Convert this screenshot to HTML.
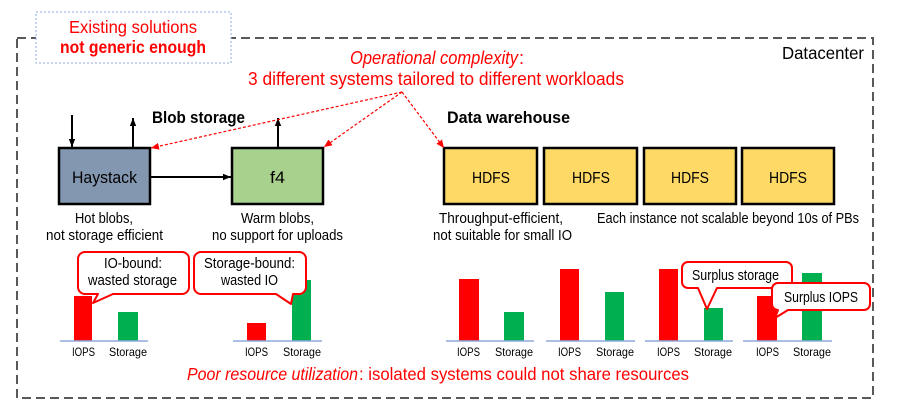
<!DOCTYPE html>
<html>
<head>
<meta charset="utf-8">
<style>
  html, body { margin: 0; padding: 0; background: #ffffff; }
  svg { display: block; }
  text { font-family: "Liberation Sans", Arial, sans-serif; }
</style>
</head>
<body>
<svg width="899" height="412" viewBox="0 0 899 412" xmlns="http://www.w3.org/2000/svg">
  <defs>
    <marker id="ra" markerUnits="userSpaceOnUse" markerWidth="9" markerHeight="8" refX="8" refY="4" orient="auto">
      <path d="M0,0.5 L8,4 L0,7.5 Z" fill="#ff0000"/>
    </marker>
    <marker id="ba" markerUnits="userSpaceOnUse" markerWidth="9" markerHeight="8" refX="8" refY="4" orient="auto">
      <path d="M0,0.8 L8,4 L0,7.2 Z" fill="#000000"/>
    </marker>
  </defs>

  <rect x="0" y="0" width="899" height="412" fill="#ffffff"/>

  <!-- Datacenter dashed border -->
  <rect x="17" y="38" width="856" height="360" fill="none" stroke="#595959" stroke-width="2" stroke-dasharray="9 5"/>

  <!-- Existing solutions box -->
  <rect x="36" y="12" width="195" height="51" fill="#ffffff" stroke="#8faadc" stroke-width="1" stroke-dasharray="2 2"/>
  <text x="69" y="33" font-size="17.5" fill="#ff0000" textLength="128" lengthAdjust="spacingAndGlyphs">Existing solutions</text>
  <text x="60" y="53" font-size="17.5" font-weight="bold" fill="#ff0000" textLength="146" lengthAdjust="spacingAndGlyphs">not generic enough</text>

  <text x="782" y="59" font-size="17.5" fill="#000000" textLength="82" lengthAdjust="spacingAndGlyphs">Datacenter</text>

  <!-- Operational complexity -->
  <text x="350" y="64" font-size="18" font-style="italic" fill="#ff0000" textLength="168" lengthAdjust="spacingAndGlyphs">Operational complexity</text>
  <text x="519" y="64" font-size="18" fill="#ff0000">:</text>
  <text x="248" y="85" font-size="18" fill="#ff0000" textLength="376" lengthAdjust="spacingAndGlyphs">3 different systems tailored to different workloads</text>

  <!-- Section titles -->
  <text x="152" y="123" font-size="16.5" font-weight="bold" fill="#000000" textLength="93" lengthAdjust="spacingAndGlyphs">Blob storage</text>
  <text x="447" y="123" font-size="16.5" font-weight="bold" fill="#000000" textLength="123" lengthAdjust="spacingAndGlyphs">Data warehouse</text>

  <!-- Black arrows -->
  <line x1="72" y1="115" x2="72" y2="147" stroke="#000" stroke-width="2" marker-end="url(#ba)"/>
  <line x1="133" y1="148" x2="133" y2="118" stroke="#000" stroke-width="2" marker-end="url(#ba)"/>
  <line x1="278" y1="148" x2="278" y2="118" stroke="#000" stroke-width="2" marker-end="url(#ba)"/>
  <line x1="150" y1="177" x2="231" y2="177" stroke="#000" stroke-width="2" marker-end="url(#ba)"/>

  <!-- Boxes -->
  <rect x="59" y="148" width="91" height="56" fill="#8497b0" stroke="#000" stroke-width="2.5"/>
  <text x="72" y="183" font-size="17" fill="#000" textLength="65" lengthAdjust="spacingAndGlyphs">Haystack</text>

  <rect x="232" y="148" width="91" height="56" fill="#a9d18e" stroke="#000" stroke-width="2.5"/>
  <text x="270" y="183" font-size="17" fill="#000" textLength="15" lengthAdjust="spacingAndGlyphs">f4</text>

  <rect x="444" y="148" width="93" height="56" fill="#ffd966" stroke="#000" stroke-width="2.5"/>
  <rect x="544" y="148" width="93" height="56" fill="#ffd966" stroke="#000" stroke-width="2.5"/>
  <rect x="644" y="148" width="92" height="56" fill="#ffd966" stroke="#000" stroke-width="2.5"/>
  <rect x="742" y="148" width="92" height="56" fill="#ffd966" stroke="#000" stroke-width="2.5"/>
  <text x="472" y="183" font-size="16" fill="#000" textLength="38" lengthAdjust="spacingAndGlyphs">HDFS</text>
  <text x="572" y="183" font-size="16" fill="#000" textLength="38" lengthAdjust="spacingAndGlyphs">HDFS</text>
  <text x="671" y="183" font-size="16" fill="#000" textLength="38" lengthAdjust="spacingAndGlyphs">HDFS</text>
  <text x="769" y="183" font-size="16" fill="#000" textLength="38" lengthAdjust="spacingAndGlyphs">HDFS</text>

  <!-- Red dashed arrows -->
  <g stroke="#ff0000" stroke-width="1.2" stroke-dasharray="3 2" fill="none">
    <line x1="402" y1="92" x2="151" y2="148" marker-end="url(#ra)"/>
    <line x1="402" y1="92" x2="324" y2="147" marker-end="url(#ra)"/>
    <line x1="402" y1="92" x2="444" y2="148" marker-end="url(#ra)"/>
  </g>

  <!-- Captions -->
  <g font-size="14.5" fill="#000">
    <text x="75" y="223" textLength="58" lengthAdjust="spacingAndGlyphs">Hot blobs,</text>
    <text x="46" y="240" textLength="117" lengthAdjust="spacingAndGlyphs">not storage efficient</text>
    <text x="241" y="223" textLength="73" lengthAdjust="spacingAndGlyphs">Warm blobs,</text>
    <text x="212" y="240" textLength="131" lengthAdjust="spacingAndGlyphs">no support for uploads</text>
    <text x="439" y="223" textLength="124" lengthAdjust="spacingAndGlyphs">Throughput-efficient,</text>
    <text x="433" y="240" textLength="139" lengthAdjust="spacingAndGlyphs">not suitable for small IO</text>
    <text x="597" y="223" textLength="262" lengthAdjust="spacingAndGlyphs">Each instance not scalable beyond 10s of PBs</text>
  </g>

  <!-- Bars -->
  <g>
    <rect x="74" y="296" width="18" height="45" fill="#ff0000"/>
    <rect x="118" y="312" width="20" height="29" fill="#00b050"/>
    <rect x="247" y="323" width="19" height="18" fill="#ff0000"/>
    <rect x="292" y="280" width="19" height="61" fill="#00b050"/>
    <rect x="459" y="279" width="20" height="62" fill="#ff0000"/>
    <rect x="504" y="312" width="20" height="29" fill="#00b050"/>
    <rect x="560" y="269" width="19" height="72" fill="#ff0000"/>
    <rect x="605" y="292" width="19" height="49" fill="#00b050"/>
    <rect x="659" y="269" width="19" height="72" fill="#ff0000"/>
    <rect x="704" y="308" width="19" height="33" fill="#00b050"/>
    <rect x="757" y="296" width="20" height="45" fill="#ff0000"/>
    <rect x="802" y="273" width="20" height="68" fill="#00b050"/>
  </g>
  <g stroke="#8faadc" stroke-width="1.5">
    <line x1="60" y1="341" x2="148" y2="341"/>
    <line x1="233" y1="341" x2="322" y2="341"/>
    <line x1="446" y1="341" x2="534" y2="341"/>
    <line x1="546" y1="341" x2="635" y2="341"/>
    <line x1="645" y1="341" x2="733" y2="341"/>
    <line x1="743" y1="341" x2="832" y2="341"/>
  </g>

  <!-- Chart labels -->
  <g font-size="12" fill="#000">
    <text x="72" y="356" textLength="23" lengthAdjust="spacingAndGlyphs">IOPS</text>
    <text x="109" y="356" textLength="38" lengthAdjust="spacingAndGlyphs">Storage</text>
    <text x="245" y="356" textLength="23" lengthAdjust="spacingAndGlyphs">IOPS</text>
    <text x="283" y="356" textLength="38" lengthAdjust="spacingAndGlyphs">Storage</text>
    <text x="457" y="356" textLength="23" lengthAdjust="spacingAndGlyphs">IOPS</text>
    <text x="495" y="356" textLength="38" lengthAdjust="spacingAndGlyphs">Storage</text>
    <text x="558" y="356" textLength="23" lengthAdjust="spacingAndGlyphs">IOPS</text>
    <text x="596" y="356" textLength="38" lengthAdjust="spacingAndGlyphs">Storage</text>
    <text x="657" y="356" textLength="23" lengthAdjust="spacingAndGlyphs">IOPS</text>
    <text x="694" y="356" textLength="38" lengthAdjust="spacingAndGlyphs">Storage</text>
    <text x="756" y="356" textLength="23" lengthAdjust="spacingAndGlyphs">IOPS</text>
    <text x="793" y="356" textLength="38" lengthAdjust="spacingAndGlyphs">Storage</text>
  </g>

  <!-- Callouts -->
  <g fill="#ffffff" stroke="#ff0000" stroke-width="2" stroke-linejoin="round">
    <path d="M85,252 H182 A7,7 0 0 1 189,259 V287 A7,7 0 0 1 182,294 H113 L93,303 L98,294 H85 A7,7 0 0 1 78,287 V259 A7,7 0 0 1 85,252 Z"/>
    <path d="M201,252 H299 A7,7 0 0 1 306,259 V287 A7,7 0 0 1 299,294 H293 L291,304 L276,294 H201 A7,7 0 0 1 194,287 V259 A7,7 0 0 1 201,252 Z"/>
    <path d="M688,262 H786 A6,6 0 0 1 792,268 V282 A6,6 0 0 1 786,288 H717 L707,309 L698,288 H688 A6,6 0 0 1 682,282 V268 A6,6 0 0 1 688,262 Z"/>
    <path d="M778,283 H864 A6,6 0 0 1 870,289 V304 A6,6 0 0 1 864,310 H788 L775,318 L778,310 A6,6 0 0 1 772,304 V289 A6,6 0 0 1 778,283 Z"/>
  </g>
  <g font-size="14.5" fill="#000">
    <text x="104" y="268" textLength="58" lengthAdjust="spacingAndGlyphs">IO-bound:</text>
    <text x="88" y="285" textLength="89" lengthAdjust="spacingAndGlyphs">wasted storage</text>
    <text x="204" y="268" textLength="91" lengthAdjust="spacingAndGlyphs">Storage-bound:</text>
    <text x="221" y="285" textLength="57" lengthAdjust="spacingAndGlyphs">wasted IO</text>
    <text x="692" y="280" textLength="87" lengthAdjust="spacingAndGlyphs">Surplus storage</text>
    <text x="784" y="302" textLength="74" lengthAdjust="spacingAndGlyphs">Surplus IOPS</text>
  </g>

  <!-- Bottom text -->
  <text x="187" y="380" font-size="17.5" font-style="italic" fill="#ff0000" textLength="171" lengthAdjust="spacingAndGlyphs">Poor resource utilization</text>
  <text x="359" y="380" font-size="17.5" fill="#ff0000" textLength="330" lengthAdjust="spacingAndGlyphs">: isolated systems could not share resources</text>
</svg>
</body>
</html>
